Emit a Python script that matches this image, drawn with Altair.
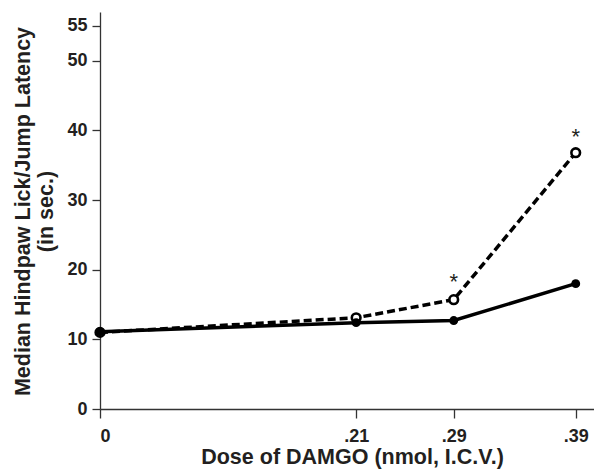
import altair as alt
import pandas as pd

# Data
doses = [0.0, 0.21, 0.29, 0.39]
solid_latency = [11.1, 12.4, 12.7, 18.0]    # filled circles, solid line
dashed_latency = [11.0, 13.1, 15.7, 36.8]   # open circles, dashed line
star_doses = [0.29, 0.39]
star_y = [17.2, 38.0]
x_ticks = [0.0, 0.21, 0.29, 0.39]
y_ticks = [0, 10, 20, 30, 40, 50, 55]

solid = pd.DataFrame({"dose": doses, "latency": solid_latency})
dashed = pd.DataFrame({"dose": doses, "latency": dashed_latency})
stars = pd.DataFrame({"dose": star_doses, "y": star_y, "t": ["*"] * len(star_doses)})

FONT = "Liberation Sans"
INK = "#231f20"

x_enc = alt.X(
    "dose:Q",
    scale=alt.Scale(domain=[0, 0.405], nice=False, zero=False),
    axis=alt.Axis(
        values=x_ticks,
        labelExpr="datum.value == 0 ? '0' : replace(format(datum.value, '.2f'), '0.', '.')",
        title="Dose of DAMGO (nmol, I.C.V.)",
        grid=False,
        tickSize=9,
        labelPadding=23,
        labelBaseline="alphabetic",
        titleX=252,
        titleY=54,
        titleBaseline="alphabetic",
    ),
)
y_enc = alt.Y(
    "latency:Q",
    scale=alt.Scale(domain=[0, 57], nice=False),
    axis=alt.Axis(
        values=y_ticks,
        title=["Median Hindpaw Lick/Jump Latency", "(in sec.)"],
        grid=False,
        tickSize=8,
        labelPadding=5,
        titleX=-71,
        titleY=199,
        titleBaseline="alphabetic",
        titleLineHeight=23,
    ),
)

dashed_line = alt.Chart(dashed).mark_line(
    color="black", strokeWidth=3.5, strokeDash=[8, 4]
).encode(x=x_enc, y=y_enc)
dashed_pts = alt.Chart(dashed).mark_point(
    shape="circle", filled=True, fill="white", stroke="black", strokeWidth=2.6, size=75, opacity=1
).encode(x="dose:Q", y="latency:Q")
solid_line = alt.Chart(solid).mark_line(color="black", strokeWidth=3.5).encode(x="dose:Q", y="latency:Q")
solid_pts = alt.Chart(solid).mark_point(
    shape="circle", filled=True, color="black", size=80, opacity=1
).encode(x="dose:Q", y="latency:Q")
star_marks = alt.Chart(stars).mark_text(
    font=FONT, fontSize=22, color=INK, baseline="alphabetic"
).encode(x="dose:Q", y="y:Q", text="t:N")

chart = (
    alt.layer(dashed_line, solid_line, dashed_pts, solid_pts, star_marks)
    .properties(
        width=494,
        height=397,
        autosize=alt.AutoSizeParams(type="none"),
        padding={"left": 92, "top": 4, "right": 0, "bottom": 60},
    )
    .configure_view(stroke=None)
    .configure_axis(
        labelFont=FONT,
        titleFont=FONT,
        labelFontSize=18,
        labelFontWeight="bold",
        labelColor=INK,
        titleFontSize=21.5,
        titleFontWeight="bold",
        titleColor=INK,
        domainColor="#333333",
        tickColor="#333333",
        domainWidth=1.3,
        tickWidth=1.3,
    )
)

chart.save("out.html", embed_options={"renderer": "svg", "actions": False})
